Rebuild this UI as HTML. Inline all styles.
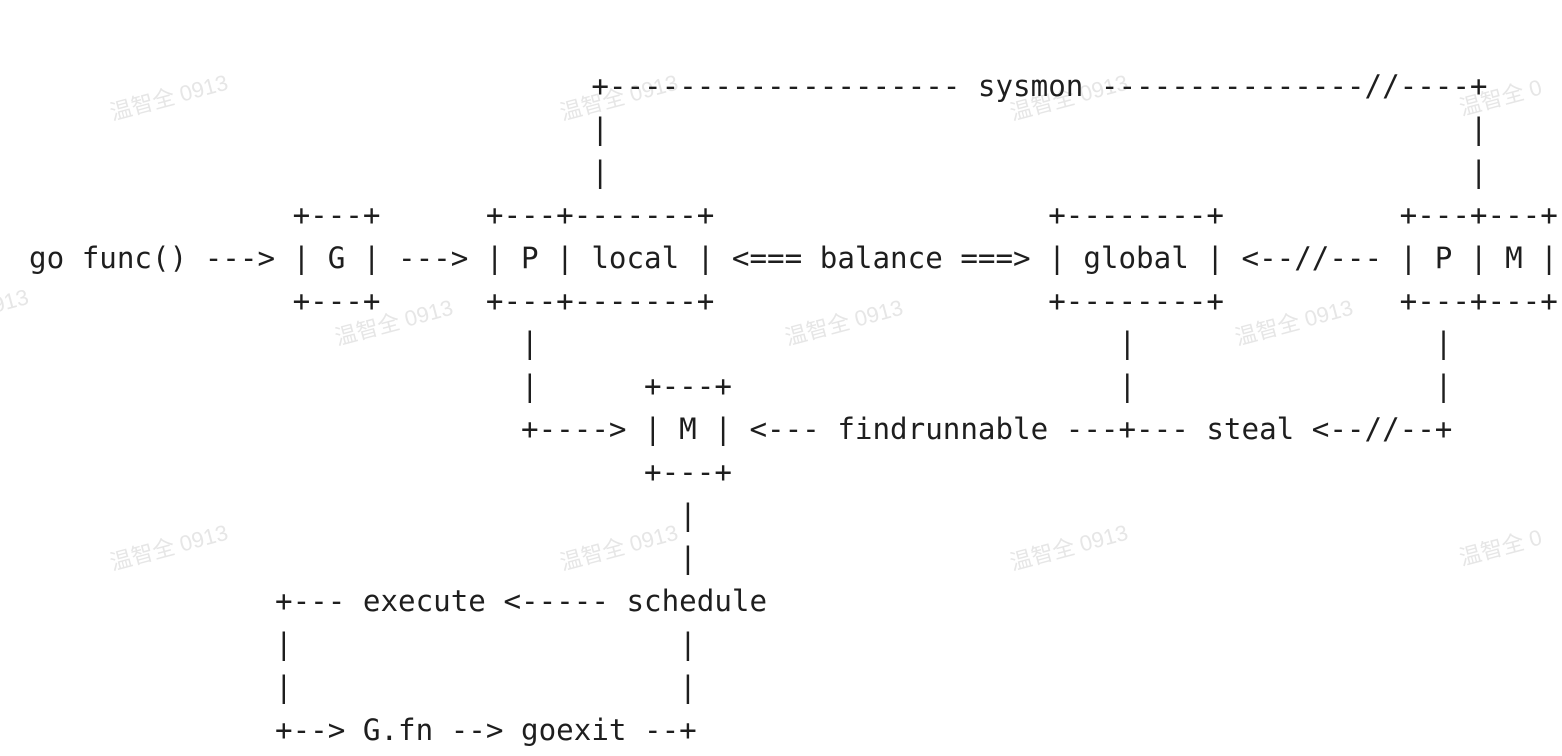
<!DOCTYPE html>
<html><head><meta charset="utf-8"><style>
html,body{margin:0;padding:0;background:#fff;width:1562px;height:756px;overflow:hidden;position:relative}
pre{position:absolute;left:29px;top:65px;margin:0;font-family:"DejaVu Sans Mono","Liberation Mono",monospace;font-size:29.2px;line-height:42.9px;color:#1e1e1e;z-index:2}
.w{position:absolute;font-family:"Liberation Sans","Noto Sans CJK SC",sans-serif;font-size:22px;color:#e6e6e6;transform:rotate(-15deg);white-space:nowrap;z-index:1}
</style></head><body>
<div class="w" style="left:108px;top:80px">温智全 0913</div>
<div class="w" style="left:558px;top:80px">温智全 0913</div>
<div class="w" style="left:1008px;top:80px">温智全 0913</div>
<div class="w" style="left:1458px;top:80px">温智全 0</div>
<div class="w" style="left:-20px;top:290px">0913</div>
<div class="w" style="left:333px;top:305px">温智全 0913</div>
<div class="w" style="left:783px;top:305px">温智全 0913</div>
<div class="w" style="left:1233px;top:305px">温智全 0913</div>
<div class="w" style="left:108px;top:530px">温智全 0913</div>
<div class="w" style="left:558px;top:530px">温智全 0913</div>
<div class="w" style="left:1008px;top:530px">温智全 0913</div>
<div class="w" style="left:1458px;top:530px">温智全 0</div>
<pre>                                +-------------------- sysmon ---------------//----+
                                |                                                 |
                                |                                                 |
               +---+      +---+-------+                   +--------+          +---+---+
go func() ---> | G | ---> | P | local | &lt;=== balance ===&gt; | global | &lt;--//--- | P | M |
               +---+      +---+-------+                   +--------+          +---+---+
                            |                                 |                 |
                            |      +---+                      |                 |
                            +----&gt; | M | &lt;--- findrunnable ---+--- steal &lt;--//--+
                                   +---+
                                     |
                                     |
              +--- execute &lt;----- schedule
              |                      |
              |                      |
              +--&gt; G.fn --&gt; goexit --+</pre>
</body></html>
